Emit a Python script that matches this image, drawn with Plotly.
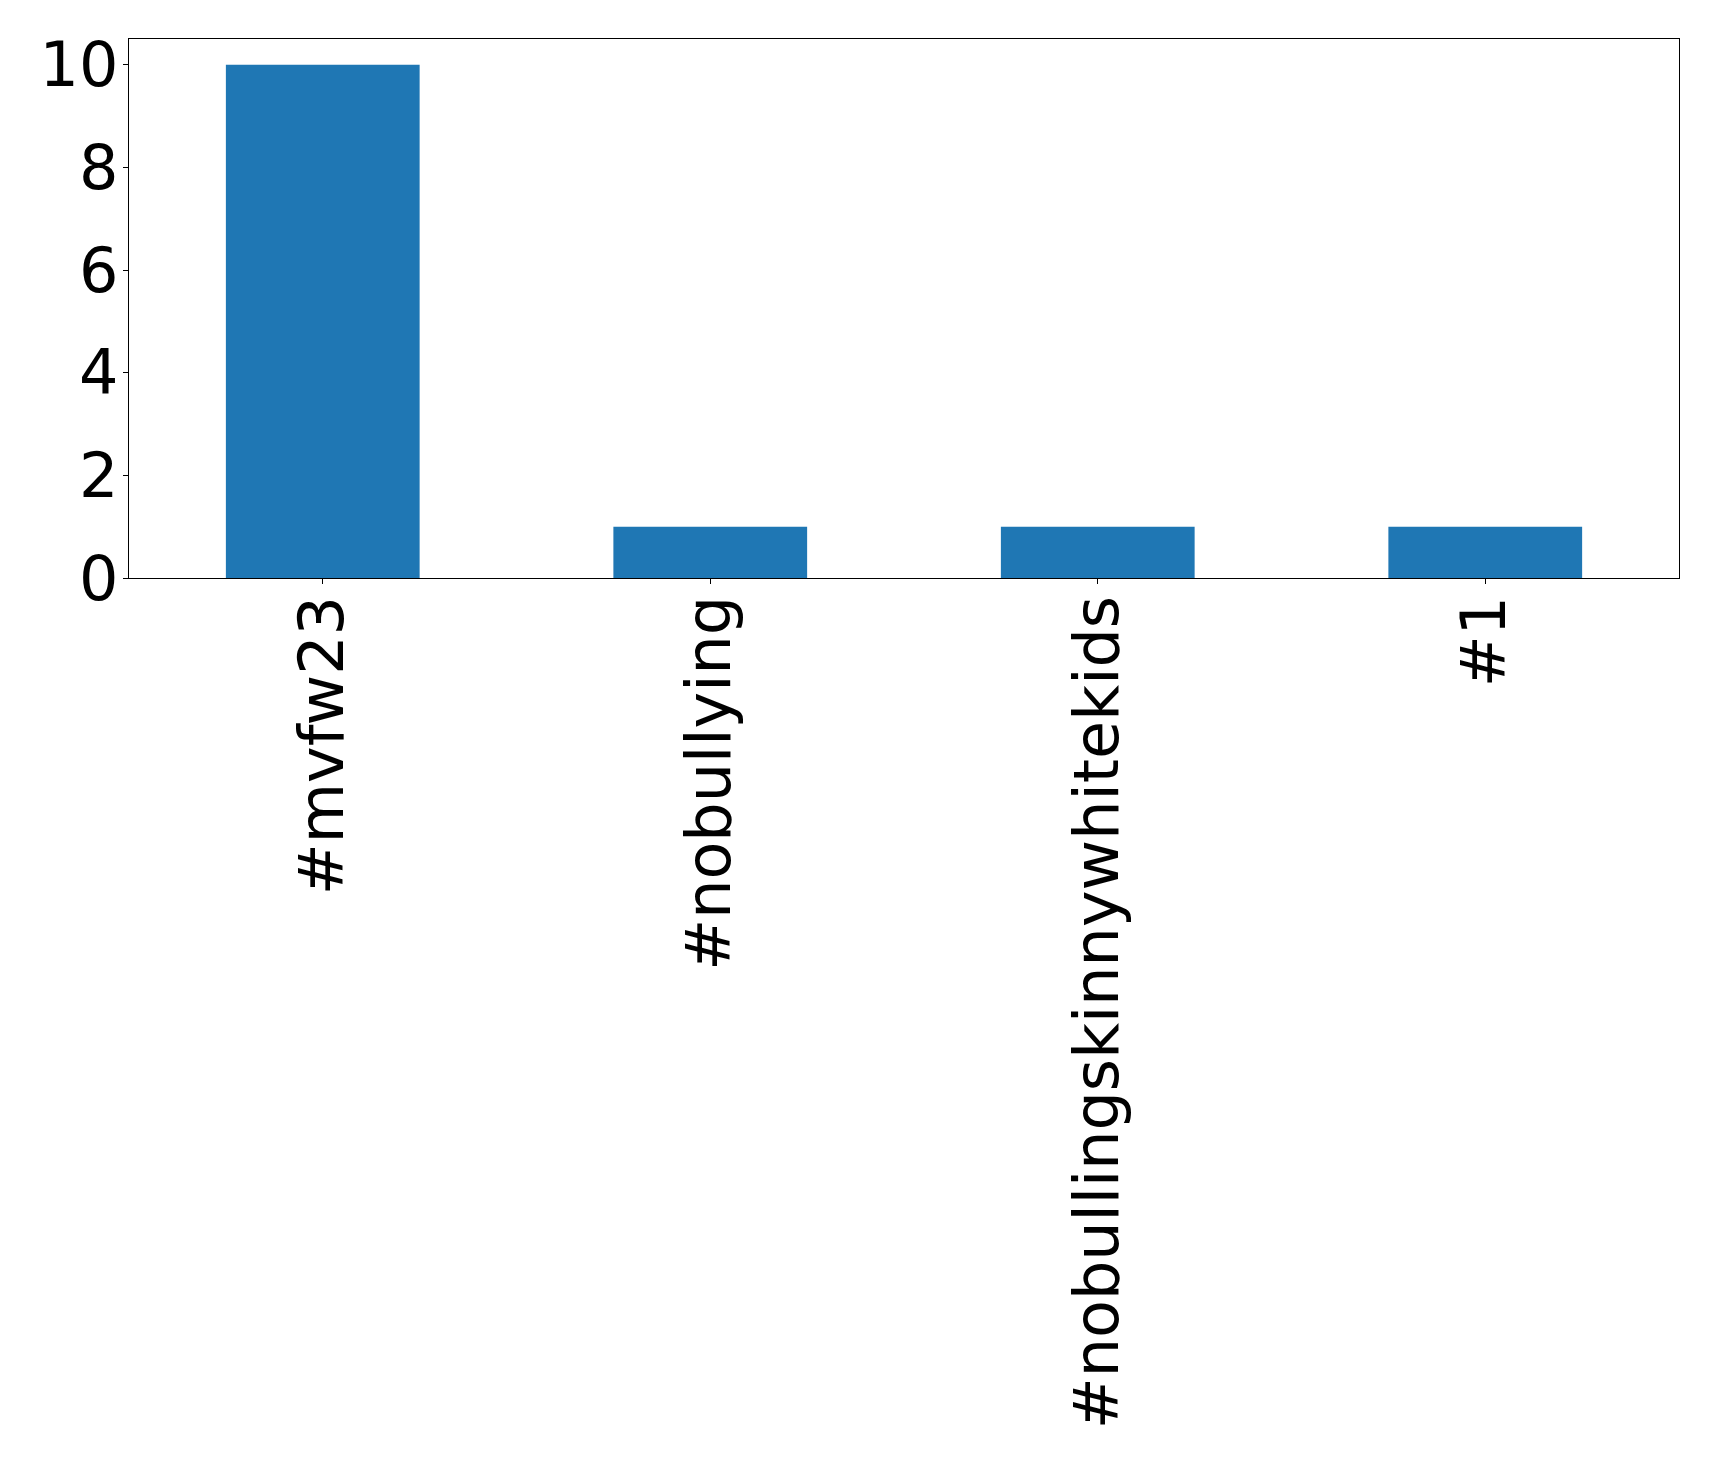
import plotly.graph_objects as go

categories = ["#mvfw23", "#nobullying", "#nobullingskinnywhitekids", "#1"]
counts = [10, 1, 1, 1]
y_ticks = [0, 2, 4, 6, 8, 10]

fig = go.Figure(go.Bar(
    x=list(range(len(categories))),
    y=counts,
    width=0.5,
    marker=dict(color="#1f77b4", line=dict(width=0)),
))

font_family = "DejaVu Sans"
W, H = 1703, 1451
fig.update_layout(
    width=W, height=H,
    margin=dict(l=121, r=W - 1671, t=31, b=H - 570, autoexpand=False),
    plot_bgcolor="white", paper_bgcolor="white",
    showlegend=False,
    font=dict(family=font_family, size=62, color="black"),
)
fig.update_xaxes(
    range=[-0.5, 3.5],
    tickmode="array", tickvals=list(range(len(categories))), ticktext=categories,
    tickangle=-90,
    ticks="outside", ticklen=5, tickwidth=1, tickcolor="black",
    ticklabelstandoff=-13,
    showline=True, linecolor="black", linewidth=1.3, mirror=True,
    showgrid=False, zeroline=False, automargin=False,
    tickfont=dict(family=font_family, size=62, color="black"),
)
fig.update_yaxes(
    range=[0, 10.5],
    tickmode="array", tickvals=y_ticks, ticktext=[str(v) for v in y_ticks],
    ticks="outside", ticklen=5, tickwidth=1, tickcolor="black",
    ticklabelstandoff=-8,
    showline=True, linecolor="black", linewidth=1.3, mirror=True,
    showgrid=False, zeroline=False, automargin=False,
    tickfont=dict(family=font_family, size=62, color="black"),
)

fig.write_html("out.html")
